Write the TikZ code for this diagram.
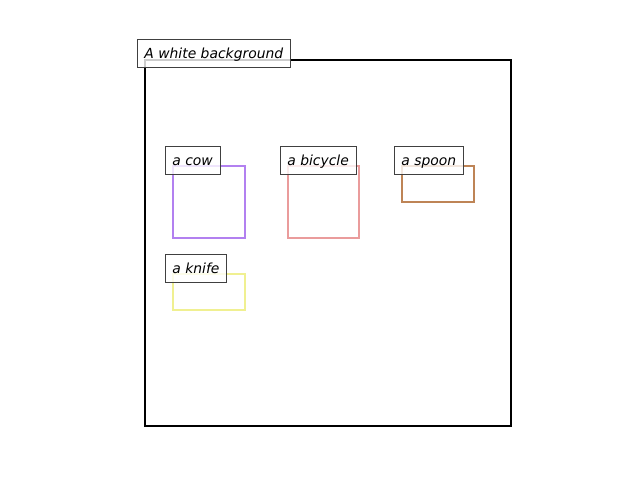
\documentclass[tikz,border=0pt]{standalone}
\usepackage{fontspec}
\setmainfont{DejaVu Sans}
\definecolor{cowc}{RGB}{178,128,240}
\definecolor{bikec}{RGB}{234,156,156}
\definecolor{spoonc}{RGB}{190,132,86}
\definecolor{knifec}{RGB}{240,240,145}
\definecolor{edgec}{RGB}{64,64,64}
\tikzset{
  lab/.style={draw=edgec, line width=0.9bp, fill=white, fill opacity=0.8, text opacity=1,
    inner xsep=7.3bp, inner ysep=0bp, minimum height=28bp, text height=12bp, text depth=2bp,
    anchor=south west, font=\fontsize{13.9bp}{16bp}\selectfont\itshape},
  box/.style={draw=#1, line width=2.2bp, inner sep=0pt, anchor=north west}
}
\begin{document}
\begin{tikzpicture}[x=1bp,y=-1bp]
\useasboundingbox (0,0) rectangle (640,480);
\node[draw=black, line width=2.2bp, inner sep=0pt, minimum width=366bp, minimum height=366bp, anchor=north west] (frame) at (143.6,58.6) {};
\node[box=cowc, minimum width=72bp, minimum height=72bp] (cow) at (171.6,164.6) {};
\node[box=bikec, minimum width=71bp, minimum height=72bp] (bike) at (286.6,164.6) {};
\node[box=spoonc, minimum width=72bp, minimum height=36bp] (spoon) at (400.6,164.6) {};
\node[box=knifec, minimum width=72bp, minimum height=36bp] (knife) at (171.6,272.6) {};
\node[lab] (lframe) at (136.6,67.6) {A white background};
\node[lab] (lcow) at (164.6,174.6) {a cow};
\node[lab] (lbike) at (279.6,174.6) {a bicycle};
\node[lab] (lspoon) at (393.6,174.6) {a spoon};
\node[lab] (lknife) at (164.6,282.6) {a knife};
\end{tikzpicture}
\end{document}
